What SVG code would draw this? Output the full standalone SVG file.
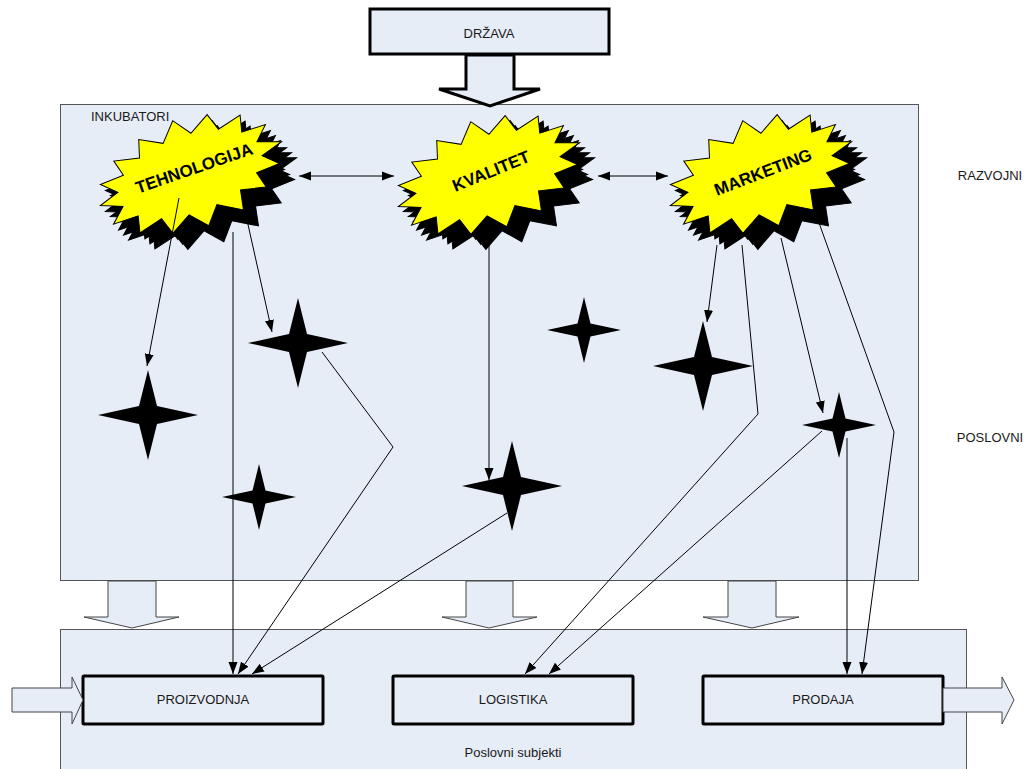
<svg xmlns="http://www.w3.org/2000/svg" xmlns:xlink="http://www.w3.org/1999/xlink" width="1028" height="769" viewBox="0 0 1028 769">
<style>
text{font-family:"Liberation Sans",Arial,sans-serif;font-size:13px;fill:#1a1a1a}
.c{text-anchor:middle}
.bt{font-weight:bold;font-size:17px;fill:#000;text-anchor:middle}
.panel{fill:#E7EDF7;stroke:#555;stroke-width:1}
.blk{fill:#E7EDF7;stroke:#444;stroke-width:1}
.thick{fill:#E7EDF7;stroke:#000;stroke-width:3}
.burst{fill:#FFFF00;stroke:#000;stroke-width:1}
.sh{fill:#000;stroke:#000;stroke-width:1}
.star{fill:#000}
.ln{fill:none;stroke:#000;stroke-width:1}
</style>
<defs>
<marker id="ah" markerUnits="userSpaceOnUse" markerWidth="12" markerHeight="10" refX="12" refY="4.5" orient="auto-start-reverse" viewBox="0 0 12 9">
<path d="M0,0 L12,4.5 L0,9 z" fill="#000"/>
</marker>
<polygon id="burst" points="97,1 74,7.5 87.8,20.7 63,21.6 67.2,38.2 42,32.3 38,52 14.8,38 0,55 -14.8,38 -36.4,49.9 -42,32.3 -67.2,38.2 -63,21.6 -89,21 -74,7.5 -95,-1 -74,-7.5 -87.8,-20.7 -63,-21.6 -67.2,-38.2 -42,-32.3 -36.4,-49.9 -14.8,-38 2,-56 14.8,-38 36.4,-49.9 42,-32.3 67.2,-38.2 63,-21.6 87.8,-20.7 74,-7.5"/>
<polygon id="starL" points="0,-45 9,-9 50,0 9,9 0,45 -9,9 -50,0 -9,-9"/>
<polygon id="starS" points="0,-33 6.5,-6.5 37,0 6.5,6.5 0,33 -6.5,6.5 -37,0 -6.5,-6.5"/>
</defs>
<rect width="1028" height="769" fill="#fff"/>

<g id="node-inkubatori">
<rect class="panel" x="60.5" y="104.5" width="858" height="476"/>
<text x="91" y="121">INKUBATORI</text>
</g>

<g id="node-poslovni-subjekti">
<rect class="panel" x="60.5" y="629.5" width="906" height="150"/>
<text class="c" x="513" y="757">Poslovni subjekti</text>
</g>

<g id="node-drzava">
<rect class="thick" x="370" y="9" width="239" height="45"/>
<text class="c" x="489" y="38">DRŽAVA</text>
</g>

<g id="block-arrows">
<polygon class="thick" points="466,55 514,55 514,89 540,89 490,106 439,89 466,89"/>
<polygon class="blk" points="108,581 156,581 156,617 179,617 132,628 84,617 108,617"/>
<polygon class="blk" points="466,581 513,581 513,617 537,617 489,628 442,617 466,617"/>
<polygon class="blk" points="728,581 776,581 776,617 799,617 752,628 703,617 728,617"/>
</g>

<g id="node-tehnologija">
<use xlink:href="#burst" class="sh" transform="translate(195,180) rotate(-20)"/>
<use xlink:href="#burst" class="sh" transform="translate(200,185) rotate(-20)"/>
<use xlink:href="#burst" class="sh" transform="translate(205,190) rotate(-20)"/>
<use xlink:href="#burst" class="burst" transform="translate(190,174) rotate(-20)"/>
<text class="bt" transform="translate(194,168) rotate(-19)" y="6">TEHNOLOGIJA</text>
</g>

<g id="node-kvalitet">
<use xlink:href="#burst" class="sh" transform="translate(493,180) rotate(-20)"/>
<use xlink:href="#burst" class="sh" transform="translate(498,185) rotate(-20)"/>
<use xlink:href="#burst" class="sh" transform="translate(503,190) rotate(-20)"/>
<use xlink:href="#burst" class="burst" transform="translate(488,175) rotate(-20)"/>
<text class="bt" transform="translate(491,171) rotate(-22)" y="6">KVALITET</text>
</g>

<g id="node-marketing">
<use xlink:href="#burst" class="sh" transform="translate(765,180) rotate(-20)"/>
<use xlink:href="#burst" class="sh" transform="translate(770,185) rotate(-20)"/>
<use xlink:href="#burst" class="sh" transform="translate(775,190) rotate(-20)"/>
<use xlink:href="#burst" class="burst" transform="translate(760,174) rotate(-20)"/>
<text class="bt" transform="translate(763,172) rotate(-21)" y="6">MARKETING</text>
</g>

<g id="node-star-a"><use xlink:href="#starL" class="star" x="148" y="415"/></g>
<g id="node-star-b"><use xlink:href="#starL" class="star" x="298" y="343"/></g>
<g id="node-star-c"><use xlink:href="#starS" class="star" x="259" y="497"/></g>
<g id="node-star-d"><use xlink:href="#starS" class="star" x="584" y="330"/></g>
<g id="node-star-e"><use xlink:href="#starL" class="star" x="512" y="486"/></g>
<g id="node-star-f"><use xlink:href="#starL" class="star" x="703" y="366"/></g>
<g id="node-star-g"><use xlink:href="#starS" class="star" x="839" y="425"/></g>

<g id="node-proizvodnja">
<rect class="thick" x="83" y="676" width="240" height="48" rx="1"/>
<text class="c" x="203" y="704">PROIZVODNJA</text>
</g>
<g id="node-logistika">
<rect class="thick" x="393" y="676" width="240" height="48" rx="1"/>
<text class="c" x="513" y="704">LOGISTIKA</text>
</g>
<g id="node-prodaja">
<rect class="thick" x="703" y="676" width="240" height="48" rx="1"/>
<text class="c" x="823" y="704">PRODAJA</text>
</g>

<g id="io-arrows">
<polygon class="blk" points="12,688 72,688 72,677 83,700 72,724 72,712 12,712"/>
<polygon class="blk" points="943,688 1002,688 1002,677 1014,700 1002,724 1002,712 943,712"/>
</g>

<g id="connectors">
<path class="ln" d="M179,198 L147,366" marker-end="url(#ah)"/>
<path class="ln" d="M233,232 L233,674" marker-end="url(#ah)"/>
<path class="ln" d="M247,220 L272,332" marker-end="url(#ah)"/>
<path class="ln" d="M322,352 L393,447 L238,674" marker-end="url(#ah)"/>
<path class="ln" d="M507,513 L252,674" marker-end="url(#ah)"/>
<path class="ln" d="M489,222 L489,480" marker-end="url(#ah)"/>
<path class="ln" d="M717,245 L707,322" marker-end="url(#ah)"/>
<path class="ln" d="M742,245 L758,414 L525,674" marker-end="url(#ah)"/>
<path class="ln" d="M781,238 L823,413" marker-end="url(#ah)"/>
<path class="ln" d="M822,431 L549,674" marker-end="url(#ah)"/>
<path class="ln" d="M847,438 L847,674" marker-end="url(#ah)"/>
<path class="ln" d="M818,220 L894,432 L862,674" marker-end="url(#ah)"/>
<path class="ln" d="M299,176 L394,176" marker-start="url(#ah)" marker-end="url(#ah)"/>
<path class="ln" d="M598,176 L668,176" marker-start="url(#ah)" marker-end="url(#ah)"/>
</g>

<g id="side-labels">
<text class="c" x="990" y="180">RAZVOJNI</text>
<text class="c" x="990" y="442">POSLOVNI</text>
</g>
</svg>
